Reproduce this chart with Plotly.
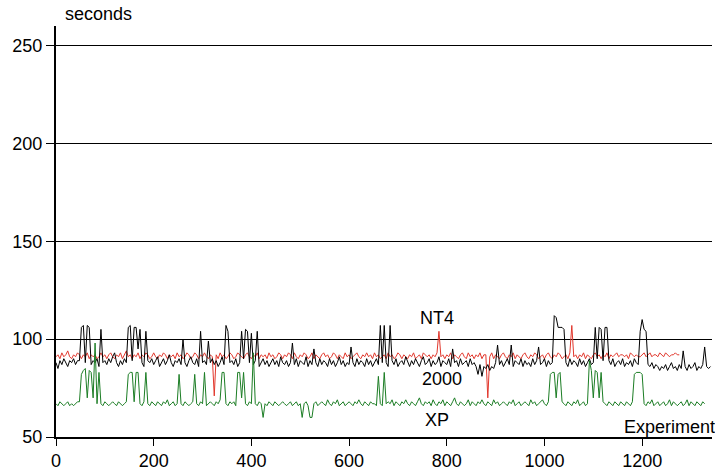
import plotly.graph_objects as go

STEP = 4

# "2000" series (black), samples at experiment 0, 4, 8, ...
win2000 = [
    88,85,89,87,90,88,86,89,88,90,
    87,89,89,106,107,88,107,106,87,89,
    88,90,86,105,88,89,87,90,88,91,
    93,88,86,89,87,90,88,106,107,89,
    106,106,95,105,88,86,104,89,88,90,
    87,89,91,86,88,90,87,89,92,88,
    86,89,88,90,87,100,88,86,89,91,
    88,87,90,86,104,88,89,87,99,88,
    90,87,89,86,88,91,87,107,104,88,
    89,87,90,86,88,104,90,105,104,88,
    103,87,89,104,86,88,90,87,89,86,
    88,90,87,89,86,91,88,87,89,86,
    88,98,87,90,86,89,88,87,91,86,
    89,87,95,88,86,90,87,89,88,86,
    90,87,89,86,88,91,87,89,86,88,
    87,96,88,86,90,87,89,88,86,90,
    87,89,86,88,90,87,107,88,107,88,
    86,107,89,87,90,86,88,89,87,91,
    88,86,89,87,90,88,86,89,91,87,
    88,90,86,89,87,88,91,86,89,88,
    87,90,86,95,88,89,86,90,87,88,
    89,86,90,87,88,86,82,87,81,86,
    85,87,84,86,85,88,97,87,89,86,
    88,90,87,97,86,89,88,87,90,86,
    89,87,88,86,90,87,89,96,87,88,
    90,86,89,87,88,112,111,106,106,106,
    105,88,86,90,87,89,88,86,90,87,
    89,86,88,90,87,88,106,90,106,105,
    89,106,106,89,87,90,86,88,89,87,
    90,86,88,87,89,86,90,88,87,104,
    110,105,104,87,86,88,85,87,86,84,
    86,85,87,84,86,88,85,86,84,87,
    85,94,86,84,87,85,86,88,84,86,
    85,87,96,86,85,86,
]

# "NT4" series (red)
nt4 = [
    91,92,90,93,91,92,94,91,90,92,
    91,93,92,90,92,91,93,90,92,91,
    92,90,91,93,91,92,90,92,93,91,
    90,92,91,93,90,92,94,91,92,90,
    92,91,93,90,92,91,93,92,90,91,
    93,91,90,92,91,93,92,90,92,91,
    92,90,93,91,92,90,91,93,92,90,
    91,93,92,90,92,91,93,91,90,92,
    91,71,92,90,93,91,92,90,91,93,
    92,90,91,93,92,91,90,92,93,91,
    90,92,91,93,90,92,91,92,90,93,
    91,92,90,91,93,92,90,92,91,93,
    92,90,93,91,90,92,91,93,92,90,
    91,93,90,92,91,90,92,93,91,92,
    90,91,93,92,90,92,91,90,93,91,
    92,90,91,92,93,91,90,92,91,93,
    91,92,90,93,91,92,90,91,92,90,
    93,91,92,90,91,93,92,90,92,91,
    90,92,91,93,90,91,92,90,93,92,
    91,92,90,92,91,93,104,91,92,90,
    92,91,93,90,92,91,90,92,93,91,
    90,93,91,92,90,92,91,93,90,92,
    92,70,91,93,90,92,91,90,92,93,
    91,90,92,91,93,90,92,91,90,92,
    93,91,90,92,91,93,92,90,91,92,
    90,92,93,91,90,92,91,93,92,90,
    91,92,90,93,107,91,92,90,92,91,
    93,90,92,91,90,92,93,91,92,90,
    92,91,93,90,92,91,92,93,91,92,
    92,91,92,90,93,92,91,92,91,91,
    92,93,91,92,93,91,92,92,91,93,
    92,91,93,92,91,92,92,93,92,92,
]

# "XP" series (green)
xp = [
    67,66,68,67,66,67,68,66,67,66,
    67,68,68,82,84,85,70,84,83,70,
    98,67,83,67,66,68,67,66,67,68,
    67,66,68,67,66,67,68,82,83,83,
    68,83,83,67,66,68,83,67,66,68,
    67,66,68,67,66,68,67,69,66,67,
    68,66,67,82,67,66,68,67,66,67,
    68,82,67,66,68,67,83,66,67,68,
    67,66,68,67,69,83,83,67,66,68,
    67,68,66,83,83,70,83,67,66,68,
    67,93,67,66,68,67,60,67,66,68,
    67,66,68,67,66,67,68,67,66,67,
    68,66,67,68,66,67,60,67,68,66,
    60,60,67,68,66,67,68,67,66,69,
    67,66,68,67,69,66,67,68,66,67,
    68,67,66,68,67,69,67,66,68,67,
    66,68,67,67,66,81,67,66,83,67,
    68,67,69,66,68,67,66,68,67,69,
    67,66,68,67,66,68,70,67,66,68,
    67,68,66,69,67,66,68,67,69,66,
    68,67,66,68,70,67,66,68,67,66,
    67,69,66,68,67,66,68,67,69,67,
    66,68,67,66,69,67,68,66,67,68,
    67,66,68,67,69,66,67,68,66,67,
    68,67,66,69,67,68,66,67,68,69,
    67,66,68,82,83,83,70,82,83,68,
    67,66,68,67,66,68,67,69,66,67,
    68,66,67,89,84,70,84,83,70,83,
    68,67,66,68,67,66,68,67,66,68,
    67,66,68,67,66,68,82,83,83,83,
    82,67,66,68,67,69,66,67,68,66,
    67,68,66,67,69,66,68,67,66,67,
    68,66,67,69,66,68,67,66,68,67,
    66,68,67,
]

x_ticks = [0, 200, 400, 600, 800, 1000, 1200]
y_ticks = [50, 100, 150, 200, 250]

def xs(vals):
    return [i * STEP for i in range(len(vals))]

FONT = "Liberation Sans, Arial, sans-serif"

fig = go.Figure()
fig.add_trace(go.Scatter(x=xs(nt4), y=nt4, mode="lines",
                         line=dict(color="#e2372c", width=1), name="NT4"))
fig.add_trace(go.Scatter(x=xs(win2000), y=win2000, mode="lines",
                         line=dict(color="#000000", width=1), name="2000"))
fig.add_trace(go.Scatter(x=xs(xp), y=xp, mode="lines",
                         line=dict(color="#1b7d24", width=1), name="XP"))

fig.update_layout(
    width=715, height=473,
    margin=dict(l=56, r=3, t=26, b=36, autoexpand=False),
    paper_bgcolor="white", plot_bgcolor="white",
    showlegend=False,
    font=dict(family=FONT, size=18, color="black"),
    xaxis=dict(range=[0, 1343], tickvals=x_ticks, showgrid=False, zeroline=False,
               automargin=False,
               showline=True, linecolor="black", linewidth=1.5,
               ticks="outside", ticklen=7, tickcolor="black", tickwidth=1,
               tickfont=dict(size=18)),
    yaxis=dict(range=[50, 260], tickvals=y_ticks, showgrid=True, gridcolor="black",
               gridwidth=1, zeroline=False, automargin=False,
               showline=True, linecolor="black", linewidth=2,
               ticks="outside", ticklen=8, tickcolor="black", tickwidth=1,
               tickfont=dict(size=18)),
    annotations=[
        dict(text="seconds", xref="paper", yref="paper", x=0.0107, y=1.029,
             xanchor="left", yanchor="middle", showarrow=False, font=dict(size=18)),
        dict(text="NT4", x=780, y=110.7, showarrow=False, font=dict(size=18)),
        dict(text="2000", x=790, y=79.6, showarrow=False, font=dict(size=18)),
        dict(text="XP", x=780, y=58.7, showarrow=False, font=dict(size=18)),
        dict(text="Experiment", xref="paper", x=0.8628, y=55.1, xanchor="left",
             showarrow=False, font=dict(size=18)),
    ],
)

fig.write_html(
    "out.html",
    config={"displayModeBar": False},
    post_script="document.documentElement.style.margin='0';"
                "document.body.style.margin='0';"
                "document.body.style.overflow='hidden';",
)
